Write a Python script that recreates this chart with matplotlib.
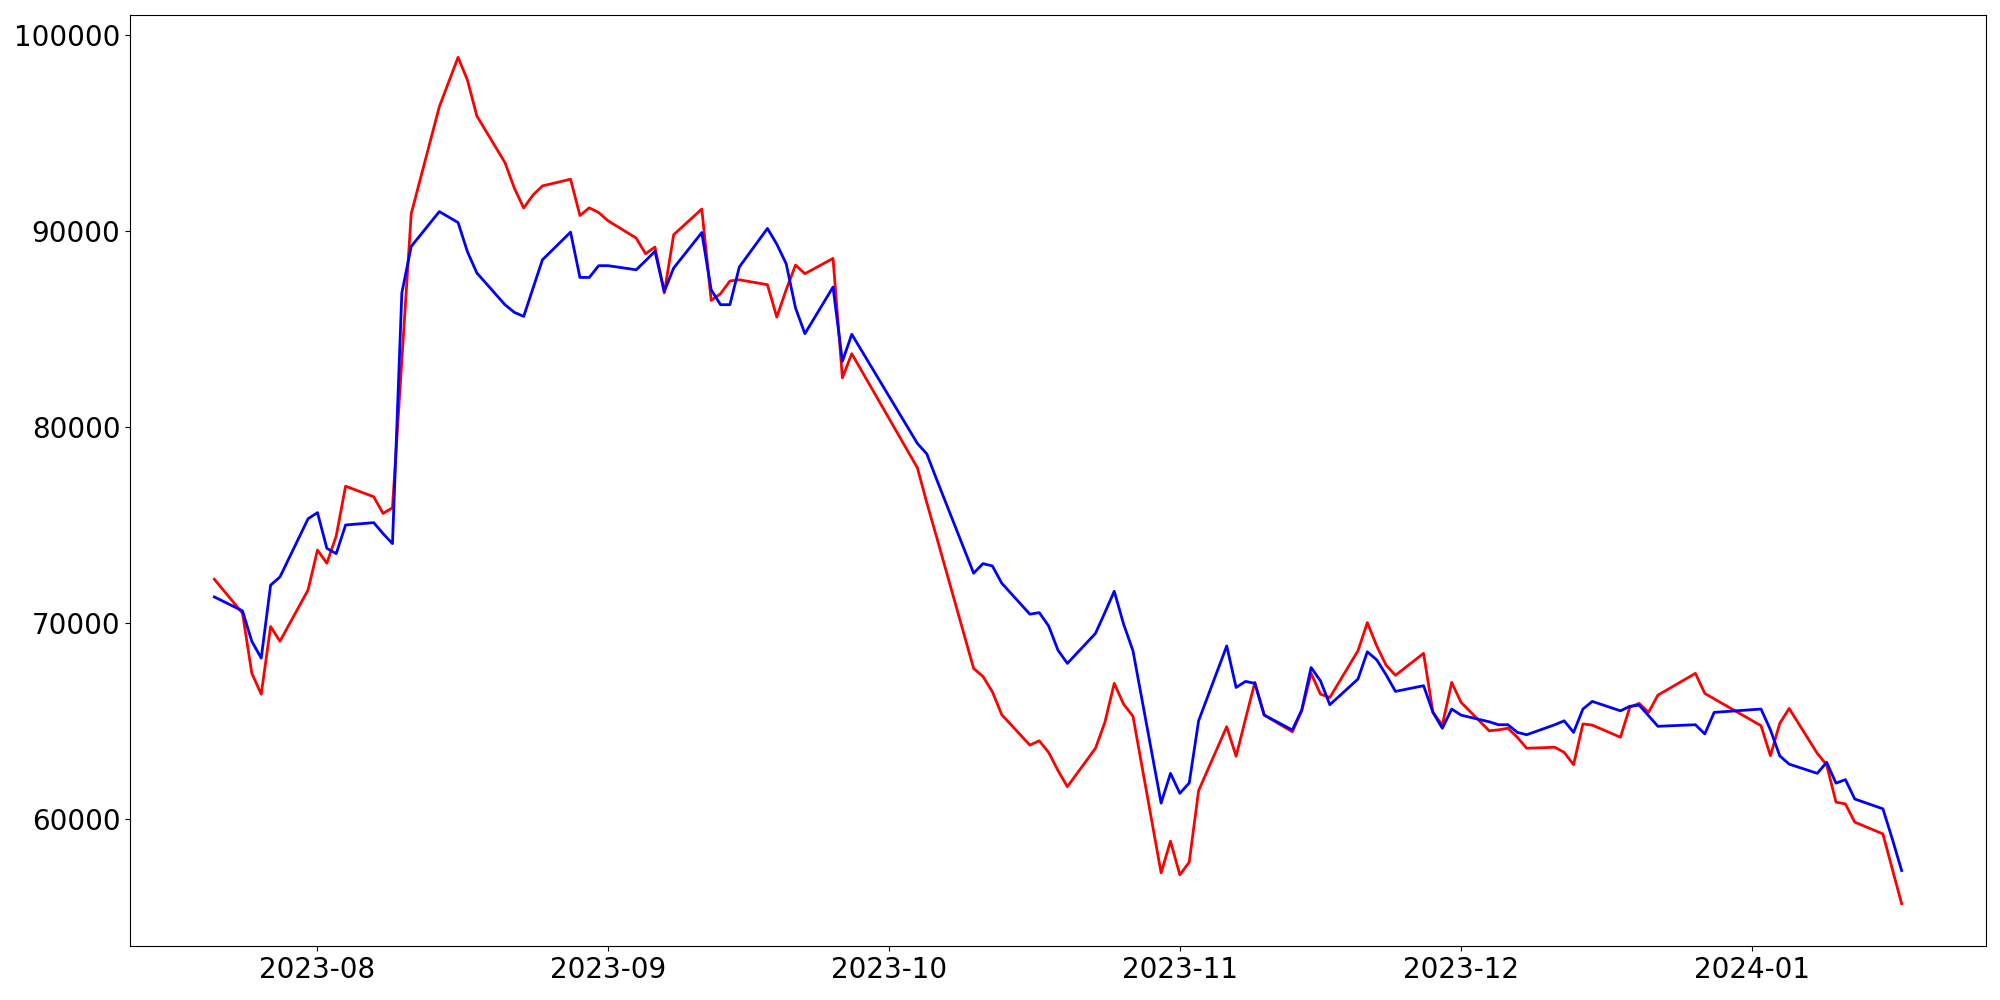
import numpy as np
import pandas as pd
import matplotlib
matplotlib.use("Agg")
import matplotlib.pyplot as plt

# trading days, KRX holidays removed
start_day = "2023-07-21"
end_day = "2024-01-17"
holidays = ["2023-08-15", "2023-09-28", "2023-09-29", "2023-10-02",
            "2023-10-03", "2023-10-09", "2023-12-25", "2023-12-29",
            "2024-01-01"]

red_vals = [
    72230, 70500, 67430, 66370, 69820, 69070, 71690,
    73720, 73050, 74440, 76980, 76440, 75590, 75880, 83400, 90880, 96340,
    98860, 97700, 95870, 93490, 92190, 91170, 91840, 92300, 92640, 90790,
    91180, 90940,
    90520, 89640, 88840, 89180, 86840, 89810, 91120, 86460, 86800, 87450,
    87510, 87260, 85610, 87000, 88260, 87820, 88600, 82510, 83740,
    77920, 76140, 74470, 67680, 67270, 66490, 65320, 63770, 63990, 63400,
    62470, 61650, 63610, 64930, 66920, 65860, 65240, 57250, 58870,
    57150, 57800, 61450, 64710, 63200, 65100, 66970, 65300, 64450, 65520,
    67430, 66370, 66200, 68580, 70020, 68830, 67850, 67330, 68450, 65440,
    64790, 66970,
    65950, 64500, 64550, 64630, 64170, 63610, 63660, 63400, 62770, 64850,
    64790, 64170, 65700, 65900, 65440, 66320, 67430, 66410, 66130,
    64760, 63230, 64880, 65640, 63350, 62760, 60860, 60770, 59840, 59240,
    57460, 55680,
]

blue_vals = [
    71330, 70620, 69060, 68210, 71930, 72350, 75320,
    75630, 73810, 73540, 75000, 75120, 74560, 74050, 86840, 89210, 90990,
    90430, 88940, 87860, 86240, 85850, 85640, 87090, 88530, 89940, 87630,
    87630, 88230,
    88230, 88020, 88480, 88960, 86920, 88110, 89920, 87000, 86240, 86240,
    88160, 90130, 89330, 88330, 86070, 84760, 87140, 83350, 84730,
    79160, 78630, 77390, 72540, 73030, 72910, 72030, 70450, 70530, 69850,
    68610, 67940, 69470, 70530, 71620, 69940, 68580, 60810, 62330,
    61310, 61840, 65010, 68830, 66710, 67020, 66920, 65300, 64540, 65560,
    67730, 67050, 65830, 67140, 68530, 68120, 67360, 66510, 66800, 65440,
    64630, 65610,
    65300, 64960, 64810, 64810, 64420, 64300, 64810, 65010, 64420, 65610,
    66000, 65520, 65750, 65810, 65270, 64730, 64810, 64340, 65440,
    65610, 64550, 63220, 62800, 62330, 62890, 61830, 62010, 61020, 60520,
    58990, 57370,
]

dates = pd.bdate_range(start_day, end_day, freq="C", holidays=holidays)

fig = plt.figure(figsize=(20, 10), dpi=100)
ax = fig.add_axes([0.065, 0.054, 0.928, 0.931])
ax.plot(dates, red_vals, color="red", linewidth=2)
ax.plot(dates, blue_vals, color="blue", linewidth=2)
ax.tick_params(labelsize=20)

fig.savefig("out.png")
